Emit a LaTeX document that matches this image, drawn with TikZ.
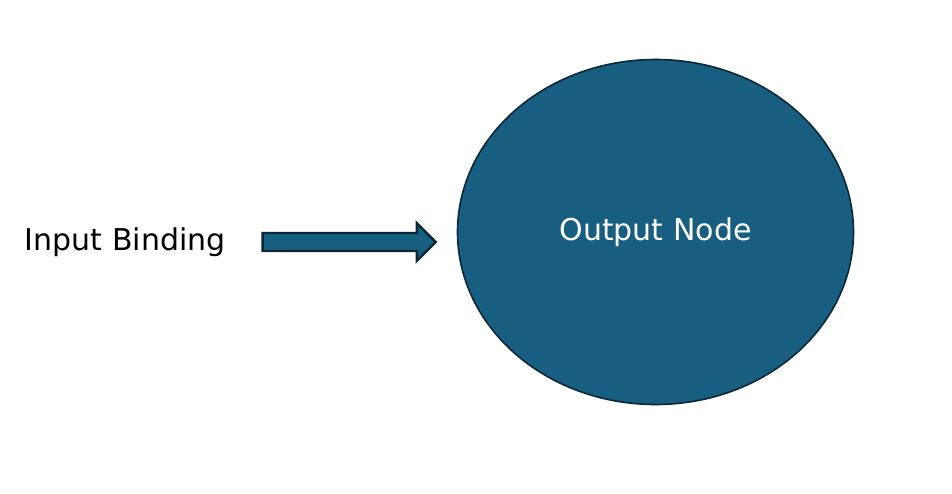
\documentclass[tikz,border=0pt]{standalone}
\usepackage{fontspec}
\setmainfont{DejaVu Sans}
\usetikzlibrary{positioning,shapes.arrows,shapes.geometric}
\definecolor{nodeblue}{RGB}{23,94,128}
\definecolor{edgedark}{RGB}{12,40,56}
\begin{document}
\begin{tikzpicture}[x=1pt, y=-1pt, node distance=20pt,
                    out node/.style={ellipse,draw=edgedark,fill=nodeblue,line width=1.6pt,
                      minimum width=396pt,minimum height=345pt,inner sep=0pt,
                      text=white,font=\fontsize{30}{36}\selectfont},
                    bind arrow/.style={single arrow,draw=edgedark,fill=nodeblue,line width=2.4pt,
                      minimum height=173pt,minimum width=0pt,inner xsep=0pt,inner ysep=7.8pt,
                      single arrow head extend=9.8pt,outer sep=0pt},
                    label text/.style={inner sep=0pt,font=\fontsize{30}{36}\selectfont}]

  \useasboundingbox (0,0) rectangle (952,493);

  \node[out node] (out) at (655.5,232) {Output Node};
  \node[bind arrow] (arr) [left=21pt of out, yshift=-10pt] {};
  \node[label text] (in) [left=37pt of arr] {Input Binding};

\end{tikzpicture}
\end{document}
